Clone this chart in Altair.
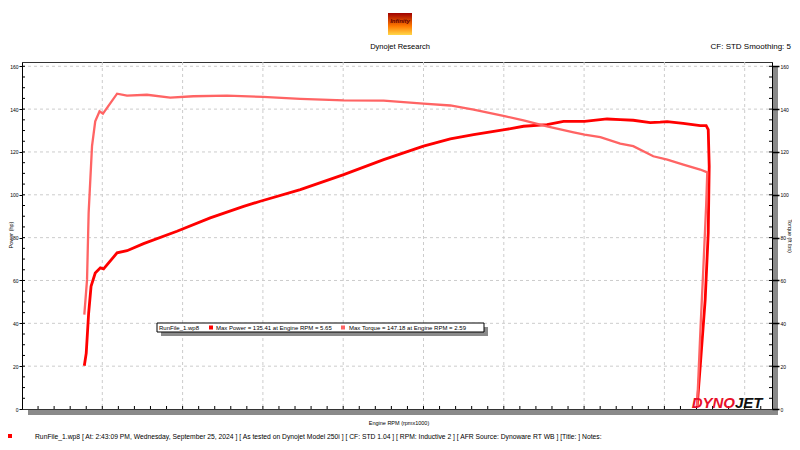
import altair as alt
import pandas as pd

# ---------------- data ----------------
rpm_power = [2.388, 2.400, 2.415, 2.430, 2.456, 2.488, 2.508, 2.592, 2.654, 2.757,
             2.965, 3.172, 3.380, 3.484, 3.733, 4.003, 4.252, 4.500, 4.667, 4.812,
             5.005, 5.123, 5.269, 5.372, 5.503, 5.643, 5.725, 5.806, 5.912, 5.974,
             6.017, 6.117, 6.223, 6.260, 6.273, 6.279, 6.273, 6.254, 6.223, 6.204]
power_hp = [20.2, 26.1, 44.8, 57.3, 63.5, 65.9, 65.4, 72.9, 73.9, 77.2,
            83.0, 89.2, 94.6, 97.0, 102.4, 109.4, 116.4, 122.7, 126.1, 128.1,
            130.4, 132.0, 132.8, 134.3, 134.3, 135.4, 135.1, 134.8, 133.7, 133.9,
            134.2, 133.3, 132.3, 132.3, 130.4, 113.3, 82.3, 51.1, 19.9, 1.2]

rpm_torque = [2.388, 2.405, 2.415, 2.436, 2.456, 2.483, 2.504, 2.592, 2.654, 2.778,
              2.923, 3.067, 3.276, 3.500, 3.733, 4.003, 4.252, 4.500, 4.667, 4.812,
              5.005, 5.123, 5.269, 5.435, 5.503, 5.601, 5.725, 5.806, 5.931, 6.018,
              6.118, 6.223, 6.267, 6.260, 6.242, 6.225, 6.210, 6.203]
torque_ftlb = [44.1, 60.4, 91.7, 122.7, 134.3, 139.0, 137.9, 147.2, 146.3, 146.7,
               145.4, 146.0, 146.3, 145.7, 144.8, 144.1, 144.0, 142.6, 141.7, 139.8,
               136.7, 134.8, 132.0, 129.2, 128.1, 126.9, 123.9, 122.7, 118.0, 116.4,
               114.1, 111.8, 110.5, 95.0, 65.0, 38.0, 12.0, 1.0]

x_major = [2.5, 3.0, 3.5, 4.0, 4.5, 5.0, 5.5, 6.0, 6.5]
x_minor = [2.1, 2.2, 2.3, 2.4, 2.5, 2.6, 2.7, 2.8, 2.9, 3.0, 3.1, 3.2, 3.3, 3.4, 3.5,
           3.6, 3.7, 3.8, 3.9, 4.0, 4.1, 4.2, 4.3, 4.4, 4.5, 4.6, 4.7, 4.8, 4.9, 5.0,
           5.1, 5.2, 5.3, 5.4, 5.5, 5.6, 5.7, 5.8, 5.9, 6.0, 6.1, 6.2, 6.3, 6.4, 6.5, 6.6]
y_major = [0, 20, 40, 60, 80, 100, 120, 140, 160]
y_grid = [20, 40, 60, 80, 100, 120, 140, 160]
y_minor = [5, 10, 15, 20, 25, 30, 35, 40, 45, 50, 55, 60, 65, 70, 75, 80, 85, 90, 95,
           100, 105, 110, 115, 120, 125, 130, 135, 140, 145, 150, 155, 160]

header_title = "Dynojet Research"
header_right = "CF: STD Smoothing: 5"
legend_run = "RunFile_1.wp8"
legend_power = "Max Power = 135.41 at Engine RPM = 5.65"
legend_torque = "Max Torque = 147.18 at Engine RPM = 2.59"
footer = ("RunFile_1.wp8 [ At: 2:43:09 PM, Wednesday, September 25, 2024 ] "
          "[ As tested on Dynojet Model 250i ] [ CF: STD 1.04 ] [ RPM: Inductive 2 ] "
          "[ AFR Source: Dynoware RT WB ] [Title: ]  Notes:")

# ---------------- tables ----------------
df_p = pd.DataFrame({"rpm": rpm_power, "hp": power_hp, "i": range(len(rpm_power))})
df_t = pd.DataFrame({"rpm": rpm_torque, "tq": torque_ftlb, "i": range(len(rpm_torque))})
df_xg = pd.DataFrame({"v": x_major})
df_xm = pd.DataFrame({"v": x_minor})
df_yg = pd.DataFrame({"v": y_grid})
df_ym = pd.DataFrame({"v": y_minor})
one = pd.DataFrame({"k": [0]})

W, H = 750, 347
FONT = "Liberation Sans"
POWER_C = "#ff0000"
TORQUE_C = "#ff6464"

xs = alt.Scale(domain=[2.0, 6.67], nice=False, zero=False)
ys = alt.Scale(domain=[0, 162], nice=False, zero=True)

x_axis = alt.Axis(values=x_major, format=".1f", title=None, grid=False, tickSize=0,
                  labelPadding=5, labelFontSize=5.5, labelColor="#000",
                  domainColor="#000", zindex=2, labelFont=FONT)
yl_axis = alt.Axis(values=y_major, orient="left", title=None, grid=False, tickSize=3,
                   labelPadding=1, labelFontSize=5, labelColor="#000", tickColor="#000",
                   domainColor="#000", zindex=2, labelFont=FONT)
yr_axis = alt.Axis(values=y_major, orient="right", title=None, grid=False, tickSize=7,
                   tickWidth=1.5, labelPadding=1, labelFontSize=5, labelColor="#000",
                   tickColor="#000", domainColor="#000", zindex=2, labelFont=FONT)

# grid
grid_x = alt.Chart(df_xg).mark_rule(color="#cccccc", strokeDash=[3, 3], strokeWidth=1).encode(
    x=alt.X("v:Q", scale=xs, axis=None), y=alt.value(0), y2=alt.value(H))
grid_y = alt.Chart(df_yg).mark_rule(color="#cccccc", strokeDash=[3, 3], strokeWidth=1).encode(
    y=alt.Y("v:Q", scale=ys, axis=None), x=alt.value(0), x2=alt.value(W))

# 3D shadow bands
band_bottom = alt.Chart(one).mark_rect(color="#8a8a8a").encode(
    x=alt.value(6), x2=alt.value(W + 6), y=alt.value(H + 1), y2=alt.value(H + 6))
band_right = alt.Chart(one).mark_rect(color="#8a8a8a").encode(
    x=alt.value(W + 1), x2=alt.value(W + 6), y=alt.value(4), y2=alt.value(H + 6))

# minor ticks (inward)
tick_x = alt.Chart(df_xm).mark_rule(color="#000").encode(
    x=alt.X("v:Q", scale=xs, axis=None), y=alt.value(H - 3), y2=alt.value(H))
tick_yl = alt.Chart(df_ym).mark_rule(color="#000").encode(
    y=alt.Y("v:Q", scale=ys, axis=None), x=alt.value(0), x2=alt.value(3))
tick_yr = alt.Chart(df_ym).mark_rule(color="#000").encode(
    y=alt.Y("v:Q", scale=ys, axis=None), x=alt.value(W - 3), x2=alt.value(W))

# curves
power_line = alt.Chart(df_p).mark_line(color=POWER_C, strokeWidth=2.8).encode(
    x=alt.X("rpm:Q", scale=xs, axis=x_axis),
    y=alt.Y("hp:Q", scale=ys, axis=yl_axis),
    order=alt.Order("i:Q"))
torque_line = alt.Chart(df_t).mark_line(color=TORQUE_C, strokeWidth=2.3).encode(
    x=alt.X("rpm:Q", scale=xs, axis=None),
    y=alt.Y("tq:Q", scale=ys, axis=yr_axis),
    order=alt.Order("i:Q"))


def txt(text, x, y, size=6, align="left", color="#000", angle=0, weight="normal",
        style="normal", baseline="middle"):
    return alt.Chart(one).mark_text(text=text, font=FONT, fontSize=size, align=align,
                                    baseline=baseline, color=color, angle=angle,
                                    fontWeight=weight, fontStyle=style).encode(
        x=alt.value(x), y=alt.value(y))


# header
logo = alt.Chart(one).mark_rect(
    color=alt.Gradient(gradient="linear",
                       stops=[alt.GradientStop(color="#a00000", offset=0),
                              alt.GradientStop(color="#ff7a00", offset=0.6),
                              alt.GradientStop(color="#ffd84a", offset=1)],
                       x1=0, x2=0, y1=0, y2=1)).encode(
    x=alt.value(366), x2=alt.value(390), y=alt.value(-49), y2=alt.value(-27))
logo_t = txt("Infinity", 378, -41, size=6, align="center", color="#5a0000",
             weight="bold", style="italic")
h1 = txt(header_title, 378, -15, size=7.5, align="center")
h2 = txt(header_right, 769, -15, size=8, align="right")

# legend box
leg_shadow = alt.Chart(one).mark_rect(color="#8a8a8a").encode(
    x=alt.value(139), x2=alt.value(466), y=alt.value(265), y2=alt.value(274))
leg_box = alt.Chart(one).mark_rect(color="#ffffff", stroke="#000", strokeWidth=1).encode(
    x=alt.value(135), x2=alt.value(462), y=alt.value(261), y2=alt.value(270))
leg_sq1 = alt.Chart(one).mark_rect(color=POWER_C).encode(
    x=alt.value(187), x2=alt.value(191), y=alt.value(263.5), y2=alt.value(267.5))
leg_sq2 = alt.Chart(one).mark_rect(color=TORQUE_C).encode(
    x=alt.value(319), x2=alt.value(323), y=alt.value(263.5), y2=alt.value(267.5))
leg_t1 = txt(legend_run, 137, 265.5, size=6)
leg_t2 = txt(legend_power, 194, 265.5, size=6)
leg_t3 = txt(legend_torque, 327, 265.5, size=6)

# axis titles
t_left = txt("Power (hp)", -11, 173, size=5.5, align="center", angle=270)
t_right = txt("Torque (ft lbs)", 767.5, 174, size=5.5, align="center", angle=90)
t_bottom = txt("Engine RPM (rpmx1000)", 377, 361, size=5.5, align="center")

# Dynojet brand
dyno = txt("DYNO", 713, 346, size=15, align="right", color="#e8102a",
           weight="bold", style="italic", baseline="alphabetic")
jet = txt("JET", 713, 346, size=15, align="left", color="#111111",
          weight="bold", style="italic", baseline="alphabetic")

# footer
foot_sq = alt.Chart(one).mark_rect(color=POWER_C).encode(
    x=alt.value(-14), x2=alt.value(-10), y=alt.value(372), y2=alt.value(376))
foot = txt(footer, 13, 375, size=6.75)

chart = alt.layer(
    grid_x, grid_y, band_bottom, band_right,
    power_line, torque_line,
    tick_x, tick_yl, tick_yr,
    leg_shadow, leg_box, leg_sq1, leg_sq2, leg_t1, leg_t2, leg_t3,
    logo, logo_t, h1, h2, t_left, t_right, t_bottom, dyno, jet, foot_sq, foot,
).resolve_scale(y="independent").properties(
    width=W, height=H,
    autosize=alt.AutoSizeParams(type="none"),
    padding={"left": 14, "top": 54, "right": 20, "bottom": 33},
    background="#ffffff",
).configure_view(stroke="#333333", strokeWidth=1).configure_text(font=FONT)

chart.save("out.html", embed_options={"renderer": "svg", "actions": False})
